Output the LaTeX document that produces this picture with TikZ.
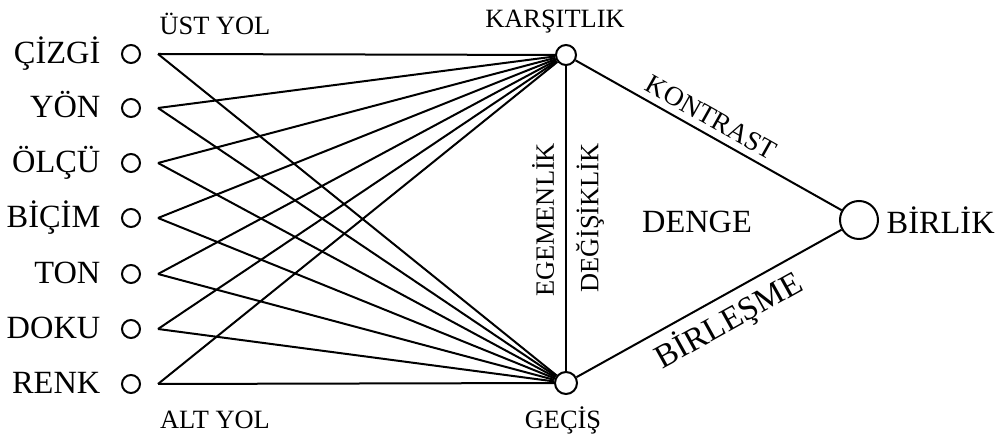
\documentclass[tikz,border=0pt]{standalone}
\usepackage{fontspec}
\setmainfont{Liberation Serif}
\usetikzlibrary{positioning}

\begin{document}
\begin{tikzpicture}[x=0.5pt, y=-0.5pt, line width=1pt,
	every node/.style={font=\fontsize{16.2}{18}\selectfont},
	dot/.style={circle, draw, fill=white, inner sep=0pt, minimum size=9pt},
	lab/.style={text height=12pt, text depth=2pt},
	small/.style={font=\fontsize{13.2}{15}\selectfont}]
	\useasboundingbox (0,0) rectangle (998,437);
	% left column
	\node[dot] (c1) at (131,54) {};  \node[lab, left=6.5pt of c1] (l1) {ÇİZGİ};
	\node[dot] (c2) at (131,108) {}; \node[lab, left=6.5pt of c2] (l2) {YÖN};
	\node[dot] (c3) at (131,163) {}; \node[lab, left=6.5pt of c3] (l3) {ÖLÇÜ};
	\node[dot] (c4) at (131,218) {}; \node[lab, left=6.5pt of c4] (l4) {BİÇİM};
	\node[dot] (c5) at (131,274) {}; \node[lab, left=6.5pt of c5] (l5) {TON};
	\node[dot] (c6) at (131,329) {}; \node[lab, left=6.5pt of c6] (l6) {DOKU};
	\node[dot] (c7) at (131,384) {}; \node[lab, left=6.5pt of c7] (l7) {RENK};
	\coordinate (p1) at (158,54);
	\coordinate (p2) at (158,108);
	\coordinate (p3) at (158,163);
	\coordinate (p4) at (158,218);
	\coordinate (p5) at (158,274);
	\coordinate (p6) at (158,329);
	\coordinate (p7) at (158,384);
	\node[small] (ust) at (215,24) {ÜST YOL};
	\node[small] (alt) at (215,420) {ALT YOL};
	% right part
	\node[dot, minimum size=10pt] (kar) at (566,55) {};
	\node[dot, minimum size=11pt] (gec) at (566,383) {};
	\node[dot, minimum size=19pt] (bir) at (859,220) {};
	\node[right=0pt of bir] (birlik) {BİRLİK};
	\node[small] (karl) at (555,22) {KARŞITLIK};
	\node[small] (gecl) at (563,420) {GEÇİŞ};
	\node[small, rotate=90] (ege) at (543,220) {EGEMENLİK};
	\node[small, rotate=90] (deg) at (590,218) {DEĞİŞİKLİK};
	\node (denge) at (697,222) {DENGE};
	\draw (p1) -- (kar); \draw (p1) -- (gec);
	\draw (p2) -- (kar); \draw (p2) -- (gec);
	\draw (p3) -- (kar); \draw (p3) -- (gec);
	\draw (p4) -- (kar); \draw (p4) -- (gec);
	\draw (p5) -- (kar); \draw (p5) -- (gec);
	\draw (p6) -- (kar); \draw (p6) -- (gec);
	\draw (p7) -- (kar); \draw (p7) -- (gec);
	\draw (kar) -- (gec);
	\draw (kar) -- (bir) node[pos=0.48, above, sloped, font=\fontsize{13.6}{15}\selectfont] {KONTRAST};
	\draw (gec) -- (bir) node[pos=0.53, below, sloped, font=\fontsize{16.5}{18}\selectfont] {BİRLEŞME};
\end{tikzpicture}
\end{document}
